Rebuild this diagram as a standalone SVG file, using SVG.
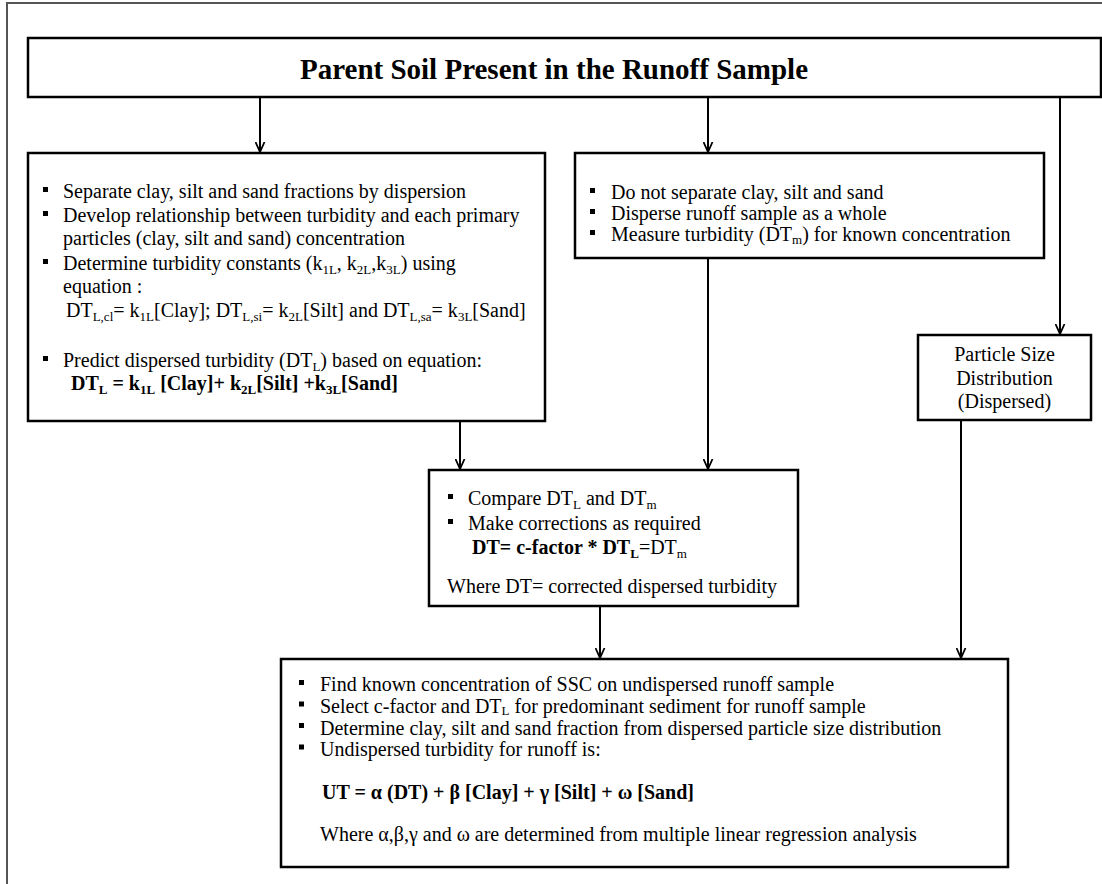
<svg xmlns="http://www.w3.org/2000/svg" width="1102" height="884" viewBox="0 0 1102 884">
<defs>
<style>
.box{fill:#fff;stroke:#000;stroke-width:2.5}
.frame{stroke:#555;stroke-width:2;fill:none}
.t{font-family:"Liberation Serif","Times New Roman",serif;font-size:20px;fill:#000}
.b{font-weight:bold}
.s{font-size:13px}
.bul{fill:#000}
.con{stroke:#000;stroke-width:2;fill:none}
</style>
<marker id="ah" viewBox="0 0 10 10" refX="10" refY="5" markerWidth="10" markerHeight="11" markerUnits="userSpaceOnUse" orient="auto">
<path d="M0,0.5 L10,5 L0,9.5" fill="none" stroke="#000" stroke-width="1.8"/>
</marker>
</defs>
<rect width="1102" height="884" fill="#fff"/>
<path class="frame" d="M7,884 V3 H1102"/>

<g id="connectors">
<line class="con" x1="260" y1="98" x2="260" y2="152" marker-end="url(#ah)"/>
<line class="con" x1="708" y1="98" x2="708" y2="152" marker-end="url(#ah)"/>
<line class="con" x1="1060" y1="98" x2="1060" y2="334" marker-end="url(#ah)"/>
<line class="con" x1="460" y1="422" x2="460" y2="469" marker-end="url(#ah)"/>
<line class="con" x1="708" y1="259" x2="708" y2="469" marker-end="url(#ah)"/>
<line class="con" x1="600" y1="607" x2="600" y2="658" marker-end="url(#ah)"/>
<line class="con" x1="961" y1="421" x2="961" y2="658" marker-end="url(#ah)"/>
</g>

<g id="top">
<rect class="box" x="28" y="38" width="1073" height="59"/>
<text class="t b" x="554" y="79" text-anchor="middle" style="font-size:29px">Parent Soil Present in the Runoff Sample</text>
</g>

<g id="left">
<rect class="box" x="28" y="153" width="517" height="268"/>
<rect class="bul" x="43" y="187" width="5" height="5"/>
<rect class="bul" x="43" y="211" width="5" height="5"/>
<rect class="bul" x="43" y="259" width="5" height="5"/>
<rect class="bul" x="43" y="356" width="5" height="5"/>
<text class="t" x="63" y="198">Separate clay, silt and sand fractions by dispersion</text>
<text class="t" x="63" y="222">Develop relationship between turbidity and each primary</text>
<text class="t" x="63" y="245">particles (clay, silt and sand) concentration</text>
<text class="t" x="63" y="270">Determine turbidity constants (k<tspan class="s" dy="4">1L</tspan><tspan dy="-4">, k</tspan><tspan class="s" dy="4">2L</tspan><tspan dy="-4">,k</tspan><tspan class="s" dy="4">3L</tspan><tspan dy="-4">) using</tspan></text>
<text class="t" x="63" y="293">equation :</text>
<text class="t" x="66" y="317">DT<tspan class="s" dy="4">L,cl</tspan><tspan dy="-4">= k</tspan><tspan class="s" dy="4">1L</tspan><tspan dy="-4">[Clay]; DT</tspan><tspan class="s" dy="4">L,si</tspan><tspan dy="-4">= k</tspan><tspan class="s" dy="4">2L</tspan><tspan dy="-4">[Silt] and DT</tspan><tspan class="s" dy="4">L,sa</tspan><tspan dy="-4">= k</tspan><tspan class="s" dy="4">3L</tspan><tspan dy="-4">[Sand]</tspan></text>
<text class="t" x="63" y="367">Predict dispersed turbidity (DT<tspan class="s" dy="4">L</tspan><tspan dy="-4">) based on equation:</tspan></text>
<text class="t b" x="71" y="390">DT<tspan class="s" dy="4">L</tspan><tspan dy="-4"> = k</tspan><tspan class="s" dy="4">1L</tspan><tspan dy="-4"> [Clay]+ k</tspan><tspan class="s" dy="4">2L</tspan><tspan dy="-4">[Silt] +k</tspan><tspan class="s" dy="4">3L</tspan><tspan dy="-4">[Sand]</tspan></text>
</g>

<g id="middle">
<rect class="box" x="575" y="153" width="469" height="105"/>
<rect class="bul" x="590" y="188" width="5" height="5"/>
<rect class="bul" x="590" y="209" width="5" height="5"/>
<rect class="bul" x="590" y="230" width="5" height="5"/>
<text class="t" x="611" y="199">Do not separate clay, silt and sand</text>
<text class="t" x="611" y="220">Disperse runoff sample as a whole</text>
<text class="t" x="611" y="241">Measure turbidity (DT<tspan class="s" dy="3">m</tspan><tspan dy="-3">) for known concentration</tspan></text>
</g>

<g id="psd">
<rect class="box" x="918" y="335" width="173" height="85"/>
<text class="t" x="1004.5" y="361" text-anchor="middle">Particle Size</text>
<text class="t" x="1004.5" y="385" text-anchor="middle">Distribution</text>
<text class="t" x="1004.5" y="408" text-anchor="middle">(Dispersed)</text>
</g>

<g id="center">
<rect class="box" x="429" y="470" width="369" height="136"/>
<rect class="bul" x="448" y="494" width="5" height="5"/>
<rect class="bul" x="448" y="519" width="5" height="5"/>
<text class="t" x="468" y="505">Compare DT<tspan class="s" dy="4">L</tspan><tspan dy="-4"> and DT</tspan><tspan class="s" dy="4">m</tspan></text>
<text class="t" x="468" y="530">Make corrections as required</text>
<text class="t" x="472" y="554"><tspan class="b">DT= c-factor * DT</tspan><tspan class="s b" dy="4">L</tspan><tspan dy="-4">=DT</tspan><tspan class="s" dy="4">m</tspan></text>
<text class="t" x="447" y="593">Where DT= corrected dispersed turbidity</text>
</g>

<g id="bottom">
<rect class="box" x="281" y="659" width="727" height="208"/>
<rect class="bul" x="299" y="680" width="5" height="5"/>
<rect class="bul" x="299" y="701.5" width="5" height="5"/>
<rect class="bul" x="299" y="723" width="5" height="5"/>
<rect class="bul" x="299" y="744.5" width="5" height="5"/>
<text class="t" x="320" y="691">Find known concentration of SSC on undispersed runoff sample</text>
<text class="t" x="320" y="712.5">Select c-factor and DT<tspan class="s" dy="2.5">L</tspan><tspan dy="-2.5"> for predominant sediment for runoff sample</tspan></text>
<text class="t" x="320" y="734.5">Determine clay, silt and sand fraction from dispersed particle size distribution</text>
<text class="t" x="320" y="756">Undispersed turbidity for runoff is:</text>
<text class="t b" x="322" y="799">UT = α (DT) + β [Clay] + γ [Silt] + ω [Sand]</text>
<text class="t" x="320" y="841">Where α,β,γ and ω are determined from multiple linear regression analysis</text>
</g>
</svg>
